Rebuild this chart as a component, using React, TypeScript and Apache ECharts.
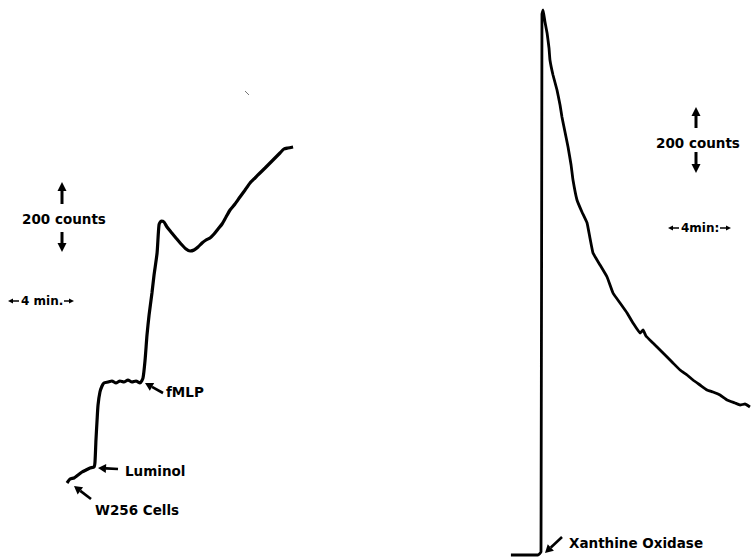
import React, { useEffect, useRef } from "react";
import * as echarts from "echarts";

// Left panel: W256 cells + luminol + fMLP (time in min, chemiluminescence counts)
const leftTime = [0, 0.19, 0.44, 0.69, 0.94, 1.19, 1.44, 1.69, 1.75, 1.81, 1.88, 1.94, 2.06, 2.19, 2.31, 2.56, 2.81, 3.06, 3.31, 3.56, 3.81, 4.06, 4.31, 4.56, 4.75, 4.88, 5.0, 5.13, 5.31, 5.44, 5.63, 5.75, 5.88, 6.06, 6.25, 6.5, 6.81, 7.13, 7.44, 7.69, 7.94, 8.19, 8.44, 8.69, 8.94, 9.19, 9.44, 9.69, 9.94, 10.19, 10.5, 10.81, 11.13, 11.44, 11.75, 12.06, 12.38, 12.69, 13.0, 13.31, 13.56, 13.81, 14.13];
const leftCounts = [-9, 3, 6, 15, 24, 30, 36, 39, 54, 120, 180, 225, 264, 282, 291, 294, 297, 291, 297, 294, 300, 294, 297, 291, 306, 360, 435, 495, 561, 615, 681, 765, 777, 774, 759, 744, 726, 708, 693, 687, 690, 699, 711, 720, 726, 738, 753, 768, 789, 810, 828, 849, 870, 891, 906, 921, 936, 951, 966, 981, 993, 996, 999];

// Right panel: xanthine oxidase
const rightTime = [-1.88, -0.19, 0, 0.06, 0.13, 0.25, 0.38, 0.5, 0.56, 0.75, 1.0, 1.19, 1.31, 1.5, 1.69, 1.88, 2.0, 2.25, 2.56, 2.88, 3.06, 3.25, 3.69, 4.13, 4.5, 4.94, 5.38, 5.75, 6.19, 6.38, 6.56, 7.0, 7.44, 7.88, 8.25, 8.69, 9.13, 9.5, 9.94, 10.38, 10.75, 11.19, 11.63, 12.13, 12.44, 12.75, 13.06];
const rightCounts = [-9, -9, 0, 1614, 1626, 1590, 1557, 1512, 1476, 1431, 1386, 1341, 1305, 1260, 1215, 1161, 1116, 1056, 1020, 987, 942, 897, 861, 825, 777, 747, 717, 687, 657, 666, 648, 627, 606, 585, 567, 546, 531, 516, 501, 486, 480, 471, 456, 447, 441, 444, 435];

const countsLabel = "200 counts";
const leftMinLabel = "4 min.";
const rightMinLabel = "4min:";
const annotations = ["W256 Cells", "Luminol", "fMLP", "Xanthine Oxidase"];

const W = 751;
const H = 557;
const PX_PER_MIN = 16;
const PX_PER_COUNT = 1 / 3;
const LEFT_ORIGIN = [67, 480];
const RIGHT_ORIGIN = [541, 552];
const FONT = "bold 13.5px 'DejaVu Sans'";
const SMALL_FONT = "bold 12px 'DejaVu Sans'";

function arrow(x1: number, y1: number, x2: number, y2: number, headLen = 8, headW = 4.5, lw = 2.6) {
  const dx = x2 - x1;
  const dy = y2 - y1;
  const len = Math.sqrt(dx * dx + dy * dy);
  const ux = dx / len;
  const uy = dy / len;
  const bx = x2 - ux * headLen;
  const by = y2 - uy * headLen;
  const px = -uy;
  const py = ux;
  return {
    type: "group",
    children: [
      { type: "line", shape: { x1, y1, x2: bx, y2: by }, style: { stroke: "#000", lineWidth: lw } },
      {
        type: "polygon",
        shape: { points: [[x2, y2], [bx + px * headW, by + py * headW], [bx - px * headW, by - py * headW]] },
        style: { fill: "#000" },
      },
    ],
  };
}

function label(text: string, x: number, y: number, align = "left", font = FONT) {
  return {
    type: "text",
    x,
    y,
    style: { text, font, fill: "#000", align, verticalAlign: "middle", textAlign: align, textVerticalAlign: "middle" },
  };
}

function axisRange(origin: number[]) {
  return {
    x: { min: -origin[0] / PX_PER_MIN, max: (W - origin[0]) / PX_PER_MIN },
    y: { min: -(H - origin[1]) / PX_PER_COUNT, max: origin[1] / PX_PER_COUNT },
  };
}

export default function App() {
  const ref = useRef<HTMLDivElement>(null);
  useEffect(() => {
    document.body.style.margin = "0";
    if (!ref.current) return;
    const chart = echarts.init(ref.current, null, { renderer: "svg" });
    const lr = axisRange(LEFT_ORIGIN);
    const rr = axisRange(RIGHT_ORIGIN);
    const grid = { left: 0, right: 0, top: 0, bottom: 0, containLabel: false };
    chart.setOption({
      animation: false,
      backgroundColor: "#fff",
      grid: [grid, grid],
      xAxis: [
        { type: "value", gridIndex: 0, min: lr.x.min, max: lr.x.max, show: false },
        { type: "value", gridIndex: 1, min: rr.x.min, max: rr.x.max, show: false },
      ],
      yAxis: [
        { type: "value", gridIndex: 0, min: lr.y.min, max: lr.y.max, show: false },
        { type: "value", gridIndex: 1, min: rr.y.min, max: rr.y.max, show: false },
      ],
      series: [
        {
          type: "line",
          name: "W256 + fMLP",
          xAxisIndex: 0,
          yAxisIndex: 0,
          data: leftTime.map((t, i) => [t, leftCounts[i]]),
          showSymbol: false,
          lineStyle: { color: "#000", width: 3.2 },
          smooth: 0.2,
        },
        {
          type: "line",
          name: "Xanthine Oxidase",
          xAxisIndex: 1,
          yAxisIndex: 1,
          data: rightTime.map((t, i) => [t, rightCounts[i]]),
          showSymbol: false,
          lineStyle: { color: "#000", width: 2.8 },
          smooth: 0.1,
        },
      ],
      graphic: [
        // left scale bars
        arrow(62, 204, 62, 182, 9, 4.5, 3),
        label(countsLabel, 22, 219),
        arrow(62, 232, 62, 252, 9, 4.5, 3),
        arrow(19, 301, 8, 301, 5, 2.5, 1.5),
        label(leftMinLabel, 21, 301, "left", SMALL_FONT),
        arrow(64, 301, 74, 301, 5, 2.5, 1.5),
        // right scale bars
        arrow(696, 128, 696, 107, 9, 4.5, 3),
        label(countsLabel, 656, 143),
        arrow(696, 152, 696, 173, 9, 4.5, 3),
        arrow(679, 228, 668, 228, 5, 2.5, 1.5),
        label(rightMinLabel, 681, 228, "left", SMALL_FONT),
        arrow(720, 228, 731, 228, 5, 2.5, 1.5),
        // annotations
        arrow(118, 469, 98, 468, 8, 4.5, 2.6),
        label(annotations[1], 125, 471),
        arrow(91, 499, 74, 486, 8, 4.5, 2.6),
        label(annotations[0], 95, 510),
        arrow(163, 393, 145, 383, 8, 4.5, 2.6),
        label(annotations[2], 166, 392),
        arrow(562, 537, 545, 553, 8, 4.5, 2.6),
        label(annotations[3], 569, 543),
        { type: "line", shape: { x1: 245, y1: 91, x2: 249, y2: 95 }, style: { stroke: "#777", lineWidth: 1 } },
      ],
    });
    return () => chart.dispose();
  }, []);
  return <div ref={ref} style={{ width: W, height: H }} />;
}
